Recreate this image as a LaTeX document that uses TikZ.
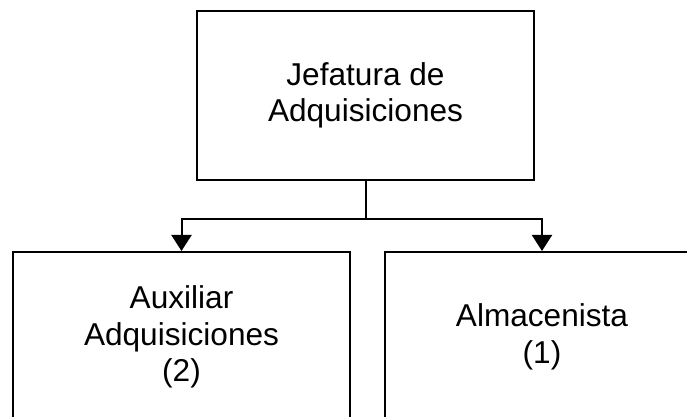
\documentclass[tikz,border=0pt]{standalone}
\usepackage{fontspec}
\setmainfont{Liberation Sans}
\usetikzlibrary{arrows.meta}
\tikzset{>={Triangle[width=15pt,length=12pt]},every node/.style={font=\fontsize{23.7pt}{27.4pt}\selectfont},
  puesto/.style={draw,line width=1.5pt,align=center,inner sep=0pt},
  enlace/.style={line width=1.5pt}}

\begin{document}
\begin{tikzpicture}[x=.75pt,y=-.75pt]
\useasboundingbox (0,0) rectangle (687,417);
\clip (0,0) rectangle (687,417);
\node[puesto,minimum width=337*.75pt,minimum height=169*.75pt] (jefe) at (365.5,95.5){Jefatura de\\Adquisiciones};
\node[puesto,minimum width=337*.75pt,minimum height=170*.75pt] (aux) at (181.5,337){Auxiliar\\Adquisiciones\\(2)};
\node[puesto,minimum width=314*.75pt,minimum height=170*.75pt] (alm) at (542,337){Almacenista\\(1)};
\coordinate (bar) at (365.5,219);
\draw[enlace] (jefe.south)--(bar);
\draw[enlace,->] (bar) -| (aux.north);
\draw[enlace,->] (bar) -| (alm.north);
\end{tikzpicture}
\end{document}
